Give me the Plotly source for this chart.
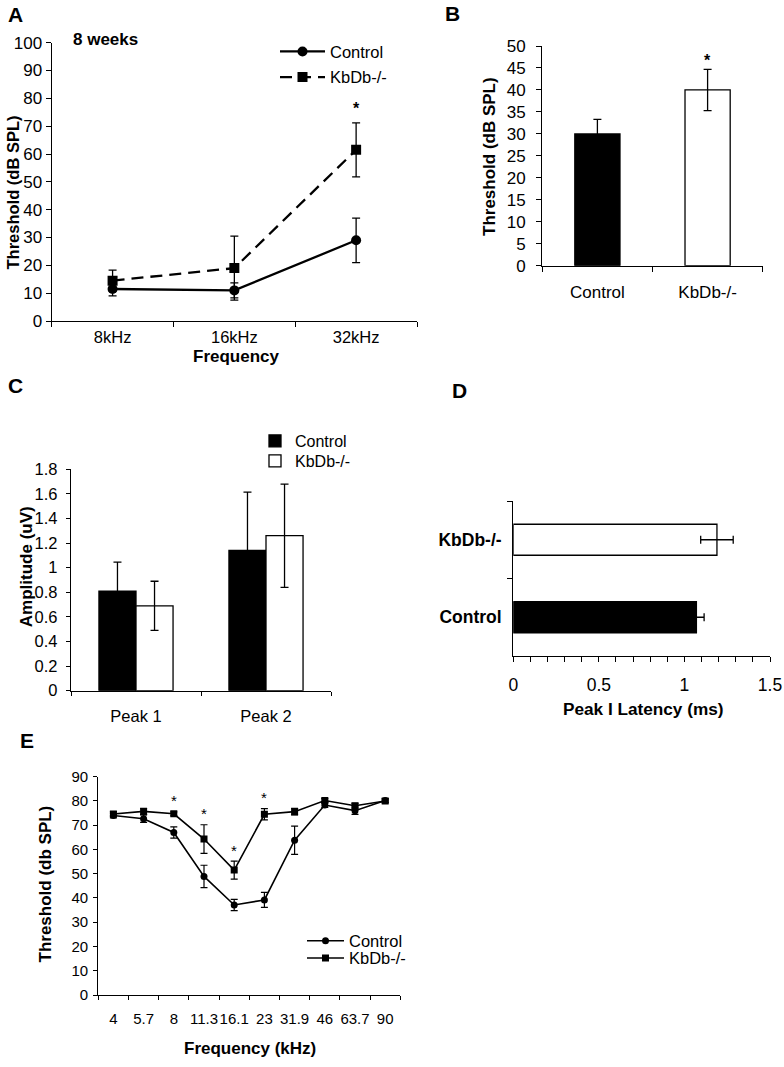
import plotly.graph_objects as go

W, H = 784, 1067
FONT = "Liberation Sans, Arial, sans-serif"


def px(x):
    return x / W


def py(y):
    return 1 - y / H


# ---------------- Data ----------------
# Panel A: thresholds at 8 weeks
a_freq = ["8kHz", "16kHz", "32kHz"]
a_ctrl = [11.5, 11.0, 29.0]
a_ctrl_err = [2.5, 2.7, 8.0]
a_kbdb = [14.5, 19.0, 61.5]
a_kbdb_err = [3.8, 11.5, 9.7]
a_sig = [False, False, True]

# Panel B: threshold bars
b_groups = ["Control", "KbDb-/-"]
b_vals = [30.0, 40.0]
b_err = [3.3, 4.7]
b_sig = [False, True]

# Panel C: amplitudes
c_peaks = ["Peak 1", "Peak 2"]
c_ctrl = [0.81, 1.14]
c_ctrl_err = [0.235, 0.475]
c_kbdb = [0.69, 1.26]
c_kbdb_err = [0.20, 0.42]

# Panel D: peak I latency
d_groups = ["Control", "KbDb-/-"]
d_vals = [1.07, 1.19]
d_err = [0.045, 0.095]

# Panel E: frequency thresholds
e_freq = ["4", "5.7", "8", "11.3", "16.1", "23", "31.9", "46", "63.7", "90"]
e_ctrl = [74.0, 72.7, 67.0, 48.9, 37.1, 39.2, 63.8, 78.3, 76.0, 80.2]
e_ctrl_err = [1.0, 1.5, 2.3, 4.6, 2.3, 3.1, 5.8, 1.0, 1.5, 0.8]
e_kbdb = [74.6, 75.7, 74.7, 64.3, 51.5, 74.5, 75.6, 80.2, 78.0, 80.0]
e_kbdb_err = [1.0, 1.3, 0.8, 5.9, 3.7, 2.3, 1.3, 0.8, 1.0, 0.8]
e_sig = [False, False, True, True, True, True, False, False, False, False]

fig = go.Figure()

# ---------------- Panel A ----------------
fig.add_trace(go.Scatter(
    x=a_freq, y=a_ctrl, name="Control", mode="lines+markers",
    line=dict(color="black", width=2.3),
    marker=dict(symbol="circle", size=10, color="black"),
    error_y=dict(type="data", array=a_ctrl_err, color="black", thickness=1.3, width=4),
    xaxis="x", yaxis="y", legend="legend"))
fig.add_trace(go.Scatter(
    x=a_freq, y=a_kbdb, name="KbDb-/-", mode="lines+markers",
    line=dict(color="black", width=2.3, dash="12px,7px"),
    marker=dict(symbol="square", size=10, color="black"),
    error_y=dict(type="data", array=a_kbdb_err, color="black", thickness=1.3, width=4),
    xaxis="x", yaxis="y", legend="legend5"))

# ---------------- Panel B ----------------
fig.add_trace(go.Bar(
    x=b_groups, y=b_vals, width=0.41,
    marker=dict(color=["black", "white"], line=dict(color="black", width=1.3)),
    error_y=dict(type="data", array=b_err, color="black", thickness=1.3, width=4),
    xaxis="x2", yaxis="y2", showlegend=False))

# ---------------- Panel C ----------------
fig.add_trace(go.Bar(
    x=c_peaks, y=c_ctrl, name="Control",
    marker=dict(color="black", line=dict(color="black", width=1.3)),
    error_y=dict(type="data", array=c_ctrl_err, color="black", thickness=1.3, width=4),
    xaxis="x3", yaxis="y3", legend="legend2"))
fig.add_trace(go.Bar(
    x=c_peaks, y=c_kbdb, name="KbDb-/-",
    marker=dict(color="white", line=dict(color="black", width=1.3)),
    error_y=dict(type="data", array=c_kbdb_err, color="black", thickness=1.3, width=4),
    xaxis="x3", yaxis="y3", legend="legend6"))

# ---------------- Panel D ----------------
fig.add_trace(go.Bar(
    y=d_groups, x=d_vals, orientation="h", width=0.4,
    marker=dict(color=["black", "white"], line=dict(color="black", width=1.3)),
    error_x=dict(type="data", array=d_err, color="black", thickness=1.3, width=4),
    xaxis="x4", yaxis="y4", showlegend=False))

# ---------------- Panel E ----------------
fig.add_trace(go.Scatter(
    x=e_freq, y=e_ctrl, name="Control", mode="lines+markers",
    line=dict(color="black", width=1.6),
    marker=dict(symbol="circle", size=7, color="black"),
    error_y=dict(type="data", array=e_ctrl_err, color="black", thickness=1.2, width=3.5),
    xaxis="x5", yaxis="y5", legend="legend3"))
fig.add_trace(go.Scatter(
    x=e_freq, y=e_kbdb, name="KbDb-/-", mode="lines+markers",
    line=dict(color="black", width=1.6),
    marker=dict(symbol="square", size=7, color="black"),
    error_y=dict(type="data", array=e_kbdb_err, color="black", thickness=1.2, width=3.5),
    xaxis="x5", yaxis="y5", legend="legend4"))

# ---------------- Axes ----------------
common = dict(showline=True, linecolor="black", linewidth=1.3, ticks="outside",
              tickcolor="black", tickwidth=1.3, showgrid=False, zeroline=False,
              fixedrange=True, automargin=False)

fig.update_layout(
    xaxis=dict(common, domain=[px(51.7), px(417)], anchor="y", type="category",
               range=[-0.5, 2.5], tickson="boundaries", ticklen=5, tickangle=0,
               tickfont=dict(size=16.5), ticklabelstandoff=1),
    yaxis=dict(common, domain=[py(321), py(42.7)], anchor="x", range=[0, 100],
               dtick=10, ticklen=5, tickfont=dict(size=17)),
    xaxis2=dict(common, domain=[px(542.3), px(762.7)], anchor="y2", type="category",
                range=[-0.5, 1.5], tickson="boundaries", ticklen=5, tickangle=0,
                tickfont=dict(size=17), ticklabelstandoff=11),
    yaxis2=dict(common, domain=[py(265.7), py(46)], anchor="x2", range=[0, 50],
                dtick=5, ticklen=5, tickfont=dict(size=17), ticklabelstandoff=7),
    xaxis3=dict(common, domain=[px(71), px(331)], anchor="y3", type="category",
                range=[-0.5, 1.5], tickson="boundaries", ticklen=4, tickangle=0,
                tickfont=dict(size=16.5), ticklabelstandoff=10),
    yaxis3=dict(common, domain=[py(690.7), py(469.3)], anchor="x3", range=[0, 1.8],
                dtick=0.2, ticklen=4, tickfont=dict(size=16.5), ticklabelstandoff=5),
    xaxis4=dict(common, domain=[px(513.3), px(770)], anchor="y4", range=[0, 1.5],
                dtick=0.5, ticklen=5, tickangle=0, tickfont=dict(size=17.5),
                ticklabelstandoff=8,
                minor=dict(dtick=0.1, ticks="outside", ticklen=5, tickwidth=1.2,
                           tickcolor="black", showgrid=False)),
    yaxis4=dict(common, domain=[py(656), py(501)], anchor="x4", type="category",
                range=[-0.5, 1.5], tickson="boundaries", ticklen=5,
                tickfont=dict(size=17.5), ticklabelstandoff=7,
                tickvals=d_groups,
                ticktext=["<b>" + g + "</b>" for g in d_groups]),
    xaxis5=dict(common, domain=[px(98.3), px(400.3)], anchor="y5", type="category",
                range=[-0.5, 9.5], tickson="boundaries", ticklen=4, tickangle=0,
                tickfont=dict(size=15), ticklabelstandoff=10),
    yaxis5=dict(common, domain=[py(995), py(776.7)], anchor="x5", range=[0, 90],
                dtick=10, ticklen=4, tickfont=dict(size=15), ticklabelstandoff=2),
)

# ---------------- Legends ----------------
leg_common = dict(bgcolor="rgba(0,0,0,0)", borderwidth=0, xanchor="left",
                  yanchor="middle", orientation="v")
fig.update_layout(
    legend=dict(leg_common, x=px(275), y=py(51.7), itemwidth=45, font=dict(size=16.5)),
    legend5=dict(leg_common, x=px(275), y=py(77.3), itemwidth=45, font=dict(size=16.5)),
    legend2=dict(leg_common, x=px(255), y=py(441), itemwidth=30, font=dict(size=16)),
    legend6=dict(leg_common, x=px(255), y=py(461), itemwidth=30, font=dict(size=16)),
    legend3=dict(leg_common, x=px(302), y=py(941), itemwidth=37, font=dict(size=16.5)),
    legend4=dict(leg_common, x=px(302), y=py(958.3), itemwidth=37, font=dict(size=16.5)),
)

# ---------------- Annotations ----------------
ann = []


def txt(text, x, y, size, angle=0):
    ann.append(dict(text=text, x=px(x), y=py(y), xref="paper", yref="paper",
                    showarrow=False, xanchor="center", yanchor="middle",
                    textangle=angle, font=dict(size=size, color="black")))


txt("<b>A</b>", 15.5, 14, 21)
txt("<b>B</b>", 452, 13, 21)
txt("<b>C</b>", 15.5, 386, 21)
txt("<b>D</b>", 459, 390.5, 21)
txt("<b>E</b>", 26.5, 740, 21)
txt("<b>8 weeks</b>", 105.5, 39, 17)
txt("<b>Threshold (dB SPL)</b>", 12, 192.5, 16.5, -90)
txt("<b>Frequency</b>", 236.7, 356.7, 17)
txt("<b>Threshold (dB SPL)</b>", 489, 156, 17, -90)
txt("<b>Amplitude (uV)</b>", 26.7, 566.5, 17, -90)
txt("<b>Peak I Latency (ms)</b>", 643, 709.3, 17.2)
txt("<b>Threshold (db SPL)</b>", 45, 884.5, 17, -90)
txt("<b>Frequency (kHz)</b>", 249.5, 1048.3, 17)

# significance asterisks (placed from data; category index used as x)
for i, s in enumerate(a_sig):
    if s:
        ann.append(dict(text="<b>*</b>", x=i, y=a_kbdb[i] + a_kbdb_err[i] + 5,
                        xref="x", yref="y", showarrow=False, yanchor="middle",
                        font=dict(size=16, color="black")))
for i, s in enumerate(b_sig):
    if s:
        ann.append(dict(text="<b>*</b>", x=i, y=b_vals[i] + b_err[i] + 2.0,
                        xref="x2", yref="y2", showarrow=False, yanchor="middle",
                        font=dict(size=16, color="black")))
for i, s in enumerate(e_sig):
    if s:
        ann.append(dict(text="*", x=i, y=e_kbdb[i] + e_kbdb_err[i] + 4.5,
                        xref="x5", yref="y5", showarrow=False, yanchor="middle",
                        font=dict(size=15, color="black")))

fig.update_layout(
    annotations=ann,
    width=W, height=H,
    margin=dict(l=0, r=0, t=0, b=0, pad=0),
    paper_bgcolor="white", plot_bgcolor="white",
    font=dict(family=FONT, color="black", size=16),
    bargap=0.43, bargroupgap=0, barmode="group",
)

fig.write_html(
    "out.html",
    config={"displayModeBar": False},
    post_script="document.body.style.margin='0';document.body.style.padding='0';"
                "document.documentElement.style.overflow='hidden';",
)
